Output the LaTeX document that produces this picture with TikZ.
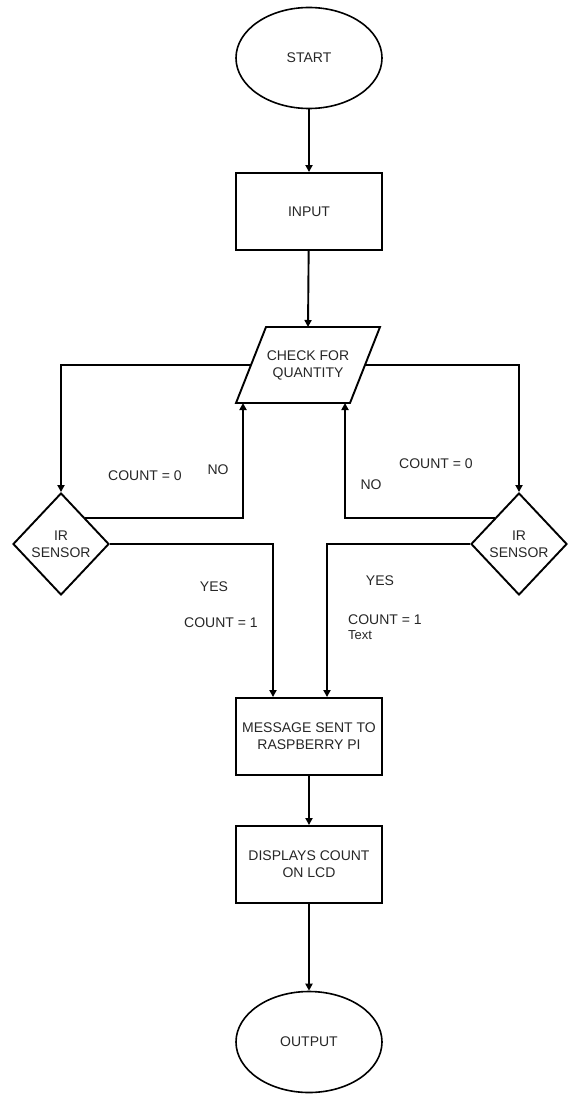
\documentclass[tikz,border=0pt]{standalone}
\usepackage{fontspec}
\setmainfont{Liberation Sans}
\usetikzlibrary{shapes.geometric,arrows.meta,calc}
\begin{document}
\begin{tikzpicture}[x=1pt,y=-1pt,
  every node/.style={font=\fontsize{14}{17}\selectfont, text=black!85},
  box/.style={draw, line width=1.9pt, minimum width=146pt, minimum height=77pt, align=center, inner sep=0pt},
  term/.style={draw, ellipse, line width=1.6pt, minimum width=146pt, minimum height=101pt, inner sep=0pt},
  dia/.style={draw, diamond, line width=1.9pt, minimum width=96pt, minimum height=102pt, inner sep=0pt, align=center},
  conn/.style={line width=1.9pt, -{Triangle[length=7pt,width=7pt]}},
  lbl/.style={inner sep=0pt},
  smalllbl/.style={inner sep=0pt, font=\fontsize{13}{15}\selectfont}]
\useasboundingbox (0,0) rectangle (569,1094);

% nodes
\node[term] (start) at (309,58) {START};
\node[box] (input) at (309,211.5) {INPUT};
\node[lbl, align=center] (chk) at (308,365) {CHECK FOR\\QUANTITY};
\draw[line width=1.9pt] ($(chk)+(-42,-38)$) -- ($(chk)+(72,-38)$) -- ($(chk)+(42,38)$) -- ($(chk)+(-72,38)$) -- cycle;
\coordinate (chkT) at ($(chk)+(0,-38)$);
\coordinate (chkL) at ($(chk)+(-57,0)$);
\coordinate (chkR) at ($(chk)+(57,0)$);
\coordinate (noL) at (243,403);
\coordinate (noR) at (345,403);

\node[dia] (ldia) at (61,544) {IR\\SENSOR};
\node[dia] (rdia) at (519,544) {IR\\SENSOR};

\node[box] (msg) at (309,736.5) {MESSAGE SENT TO\\RASPBERRY PI};
\coordinate (msgL) at ($(msg.north)+(-36,0)$);
\coordinate (msgR) at ($(msg.north)+(18,0)$);
\node[box] (disp) at (309,864.5) {DISPLAYS COUNT\\ON LCD};
\node[term] (out) at (309,1042) {OUTPUT};

% connectors
\draw[conn] (start) -- (input);
\draw[conn] (input) -- (chkT);
\draw[conn] (chkL) -| (ldia.north);
\draw[conn] (chkR) -| (rdia.north);
\draw[conn] (ldia.north east) -| (noL);
\draw[conn] (rdia.north west) -| (noR);
\draw[conn] (ldia.east) -| (msgL);
\draw[conn] (rdia.west) -| (msgR);
\draw[conn] (msg) -- (disp);
\draw[conn] (disp) -- (out);

% labels
\node[lbl] (c0l) at (145,476) {COUNT = 0};
\node[lbl] (nol) at (218,470) {NO};
\node[lbl] (c0r) at (436,464) {COUNT = 0};
\node[lbl] (nor) at (371,485) {NO};
\node[lbl] (yesl) at (214,587) {YES};
\node[lbl] (c1l) at (221,623) {COUNT = 1};
\node[lbl] (yesr) at (380,581) {YES};
\node[lbl, anchor=west] (c1r) at (348,620) {COUNT = 1};
\node[smalllbl, anchor=west] (txt) at (348,635) {Text};
\end{tikzpicture}
\end{document}
